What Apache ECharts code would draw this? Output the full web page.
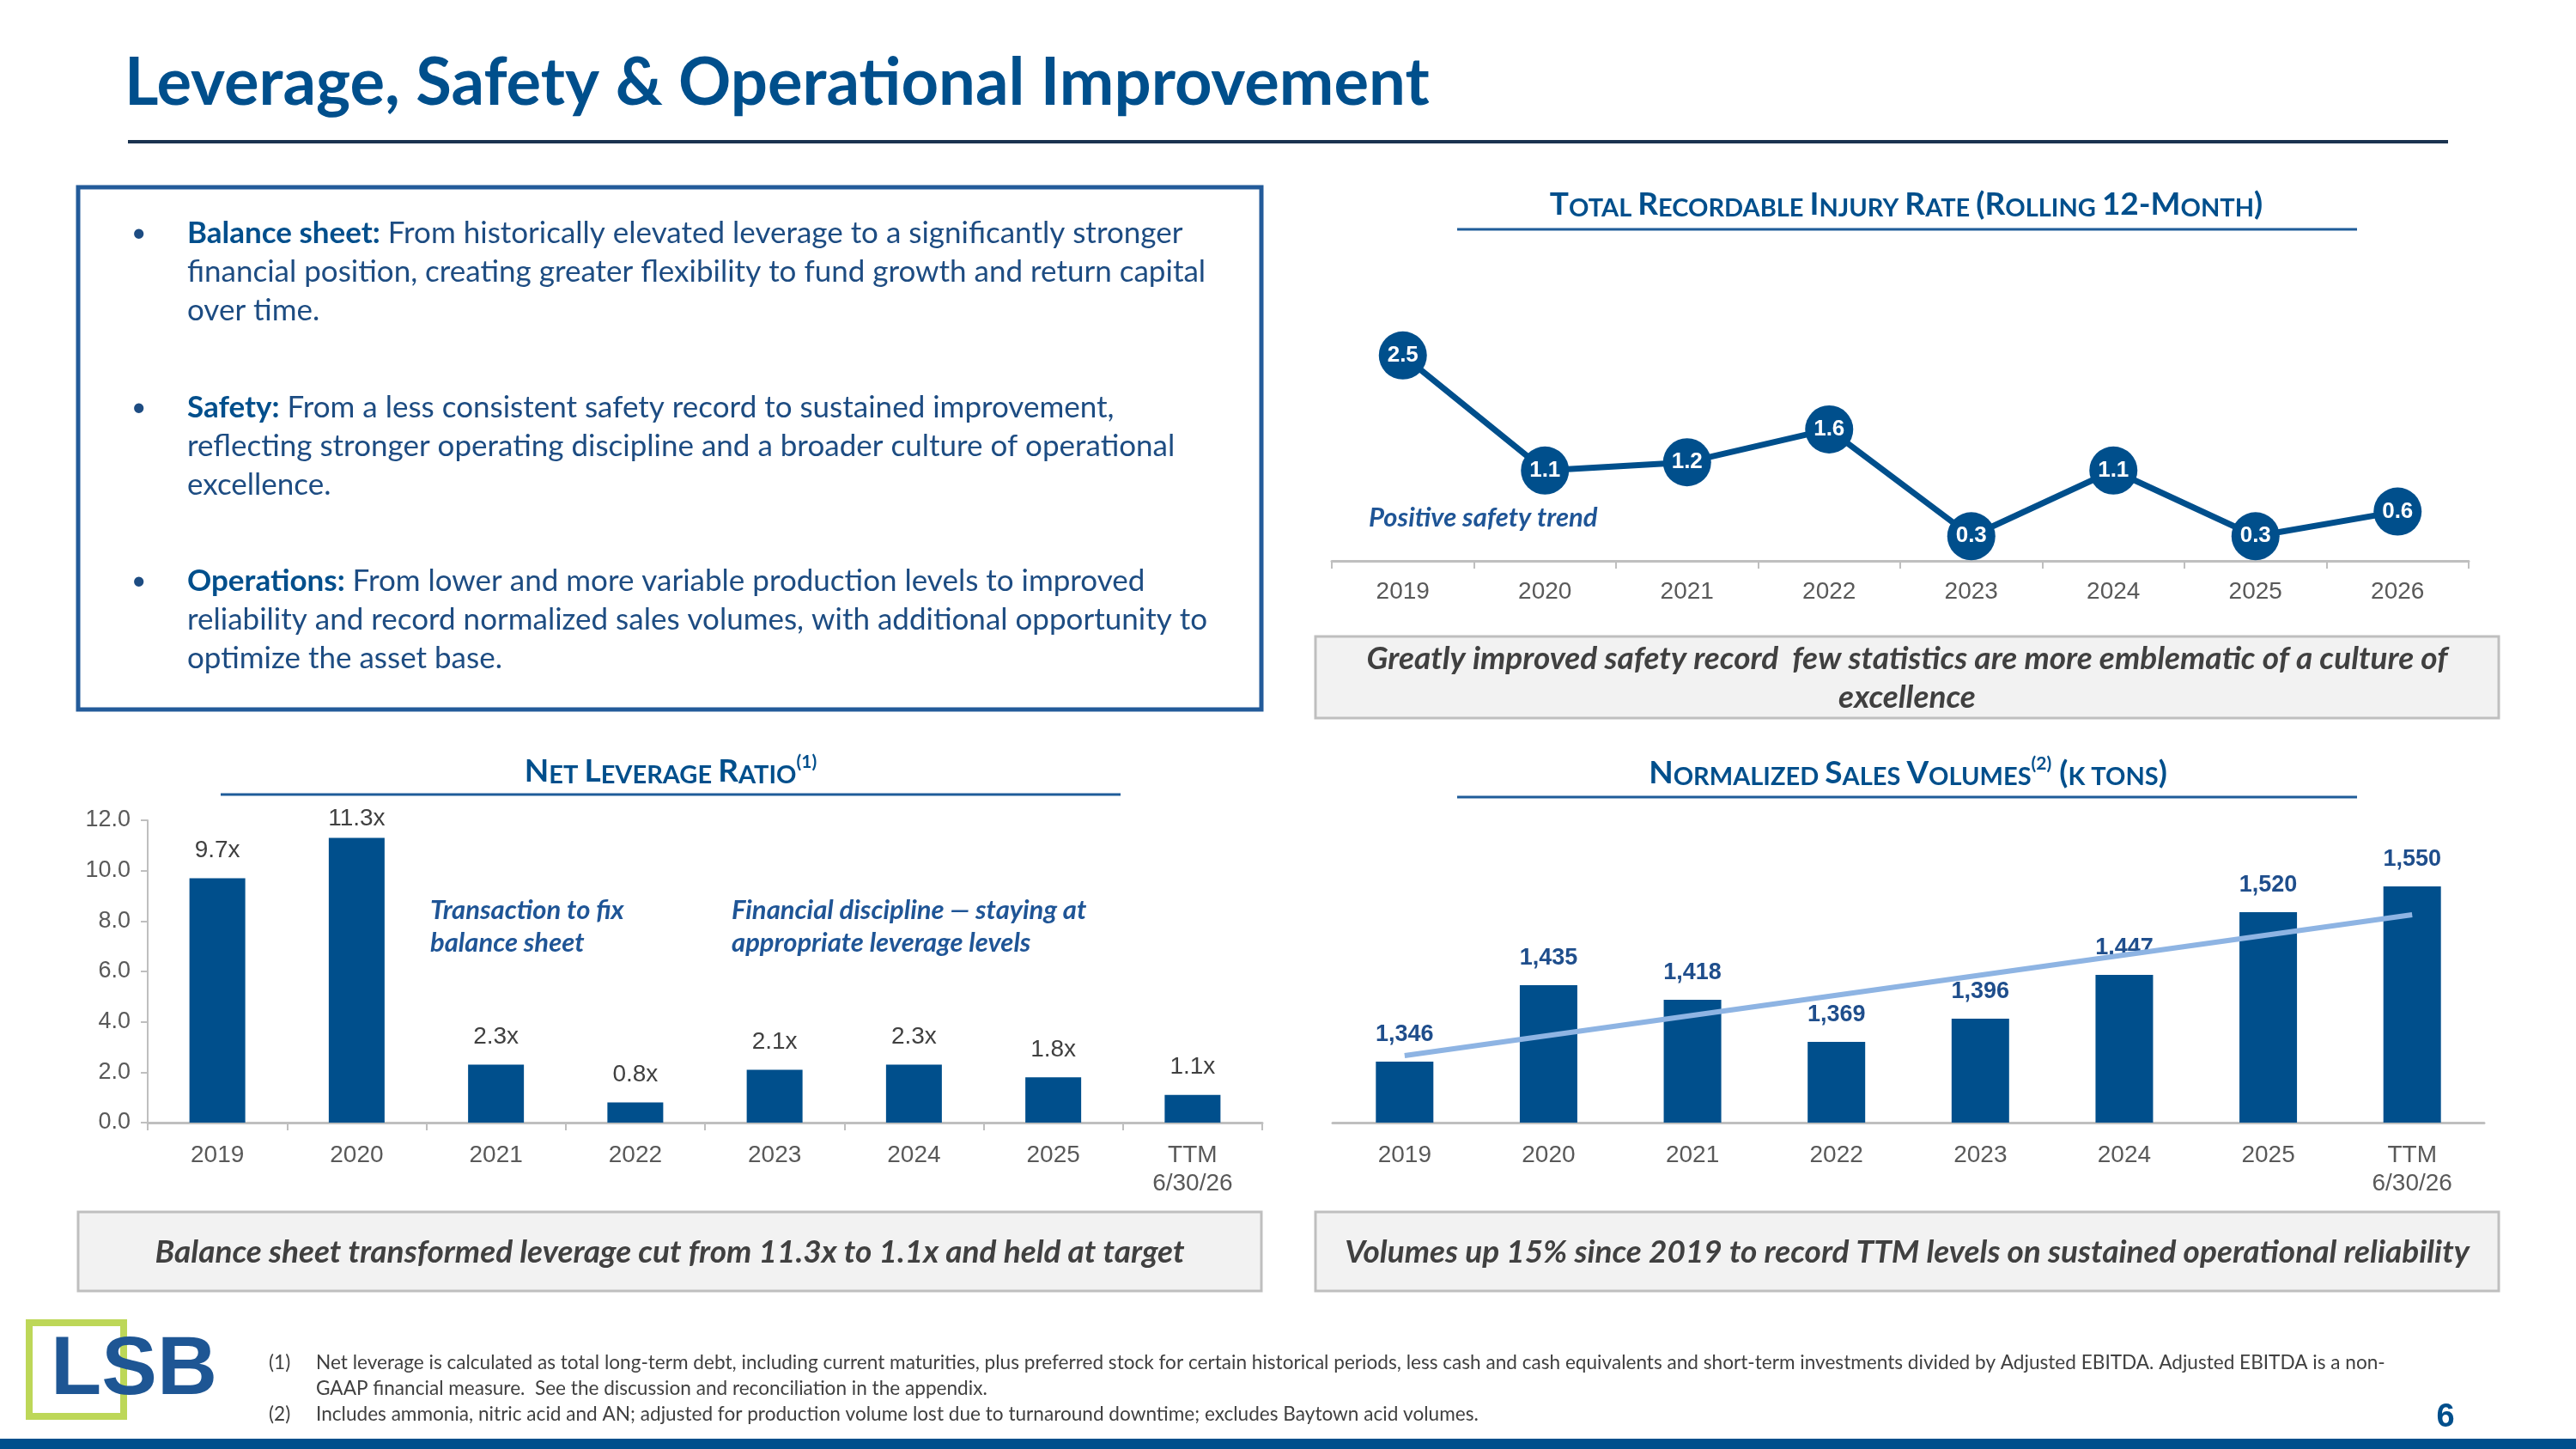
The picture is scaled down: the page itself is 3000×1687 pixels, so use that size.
<!DOCTYPE html>
<html lang="en">
<head>
    <meta charset="UTF-8">
    <title>Leverage, Safety & Operational Improvement</title>
    <script src="https://cdn.jsdelivr.net/npm/echarts@6.0.0/dist/echarts.min.js"></script>
    <style>
        html, body { margin: 0; padding: 0; background: #fff; }
        #page { width: 3000px; height: 1687px; }
    </style>
</head>
<body>
<div id="page"></div>
<script type="text/javascript">
    // 数据
    var years = ['2019', '2020', '2021', '2022', '2023', '2024', '2025', 'TTM\n6/30/26'];
    var leverageValues = [9.7, 11.3, 2.3, 0.8, 2.1, 2.3, 1.8, 1.1];
    var injuryYears = ['2019', '2020', '2021', '2022', '2023', '2024', '2025', '2026'];
    var injuryValues = [2.5, 1.1, 1.2, 1.6, 0.3, 1.1, 0.3, 0.6];
    var volumeValues = [1346, 1435, 1418, 1369, 1396, 1447, 1520, 1550];
    var volumeTrend = [1353, null, null, null, null, null, null, 1517];

    var BLUE = '#004F8C';
    var GRAY_AXIS = '#BFBFBF';
    var GRAY_TEXT = '#595959';
    var ARIAL = '"Liberation Sans", Arial, sans-serif';
    var CAL = 'Lato, "Open Sans", sans-serif';

    var chart = echarts.init(document.getElementById('page'));

    function catAxis(idx, data, ticks) {
        return {
            type: 'category',
            gridIndex: idx,
            data: data,
            axisLine: { show: true, lineStyle: { color: GRAY_AXIS, width: 3 } },
            axisTick: { show: ticks, length: 9, lineStyle: { color: GRAY_AXIS, width: 2 } },
            axisLabel: {
                interval: 0, margin: 22, fontSize: 28, lineHeight: 33,
                color: GRAY_TEXT, fontFamily: ARIAL
            }
        };
    }

    // 小型大写标题
    function capsTitle(str, x, y) {
        return {
            type: 'text',
            style: {
                x: x, y: y, text: str,
                textAlign: 'center', textVerticalAlign: 'middle',
                rich: {
                    b: { fontSize: 37, fontWeight: 'bold', fontFamily: CAL, fill: BLUE, verticalAlign: 'bottom', lineHeight: 40 },
                    s: { fontSize: 29, fontWeight: 'bold', fontFamily: CAL, fill: BLUE, verticalAlign: 'bottom', lineHeight: 40 },
                    sup: { fontSize: 21, fontWeight: 'bold', fontFamily: CAL, fill: BLUE, verticalAlign: 'top', lineHeight: 34 }
                }
            }
        };
    }

    function underline(x1, x2, y) {
        return { type: 'line', shape: { x1: x1, y1: y, x2: x2, y2: y }, style: { stroke: '#1F5C99', lineWidth: 3 } };
    }

    function grayBox(x, y, w, h, text, cy) {
        return [
            { type: 'rect', shape: { x: x, y: y, width: w, height: h }, style: { fill: '#F2F2F2', stroke: GRAY_AXIS, lineWidth: 3 } },
            {
                type: 'text', style: {
                    x: x + w / 2, y: cy, text: text, textAlign: 'center', textVerticalAlign: 'middle',
                    font: 'italic bold 37px ' + CAL, fill: '#404040', lineHeight: 45
                }
            }
        ];
    }

    function note(text, x, y) {
        return {
            type: 'text', style: {
                x: x, y: y, text: text, textAlign: 'left', textVerticalAlign: 'top',
                font: 'italic bold 31px ' + CAL, fill: '#1F5596', lineHeight: 38
            }
        };
    }

    function bullet(text, y) {
        return [
            { type: 'text', style: { x: 153, y: y + 22, text: '•', textVerticalAlign: 'middle', font: '30px ' + CAL, fill: '#1D4C82' } },
            {
                type: 'text', style: {
                    x: 218, y: y, text: text, textVerticalAlign: 'top',
                    font: '35px ' + CAL, fill: '#1D4C82', lineHeight: 45,
                    rich: { b: { fontSize: 35, fontWeight: 'bold', fontFamily: CAL, fill: BLUE, lineHeight: 45 } }
                }
            }
        ];
    }

    var graphics = [
        { type: 'text', style: { x: 145, y: 97, text: 'Leverage, Safety & Operational Improvement', textVerticalAlign: 'middle', font: 'bold 76px ' + CAL, fill: BLUE } },
        { type: 'line', shape: { x1: 149, y1: 165, x2: 2851, y2: 165 }, style: { stroke: '#1B3350', lineWidth: 4 } },
        { type: 'rect', shape: { x: 91, y: 218, width: 1378, height: 608 }, style: { fill: 'none', stroke: '#235B9A', lineWidth: 5 } }
    ];
    graphics = graphics.concat(
        bullet('{b|Balance sheet:} From historically elevated leverage to a significantly stronger\nfinancial position, creating greater flexibility to fund growth and return capital\nover time.', 249),
        bullet('{b|Safety:} From a less consistent safety record to sustained improvement,\nreflecting stronger operating discipline and a broader culture of operational\nexcellence.', 452),
        bullet('{b|Operations:} From lower and more variable production levels to improved\nreliability and record normalized sales volumes, with additional opportunity to\noptimize the asset base.', 654)
    );
    graphics.push(
        capsTitle('{b|T}{s|OTAL }{b|R}{s|ECORDABLE }{b|I}{s|NJURY }{b|R}{s|ATE }{b|(R}{s|OLLING }{b|12-M}{s|ONTH}{b|)}', 2220, 237),
        underline(1697, 2745, 267),
        capsTitle('{b|N}{s|ET }{b|L}{s|EVERAGE }{b|R}{s|ATIO}{sup|(1)}', 781, 897),
        underline(257, 1305, 925),
        capsTitle('{b|N}{s|ORMALIZED }{b|S}{s|ALES }{b|V}{s|OLUMES}{sup|(2)}{b| (}{s|K TONS}{b|)}', 2222, 899),
        underline(1697, 2745, 928)
    );
    graphics = graphics.concat(
        grayBox(1532, 741, 1378, 95, 'Greatly improved safety record  few statistics are more emblematic of a culture of\nexcellence', 790),
        grayBox(91, 1411, 1378, 92, 'Balance sheet transformed leverage cut from 11.3x to 1.1x and held at target', 1458),
        grayBox(1532, 1411, 1378, 92, 'Volumes up 15% since 2019 to record TTM levels on sustained operational reliability', 1458)
    );
    graphics.push(
        note('Positive safety trend', 1594, 584),
        note('Transaction to fix\nbalance sheet', 501, 1041),
        note('Financial discipline \u2014 staying at\nappropriate leverage levels', 852, 1041),
        // 标志
        { type: 'rect', shape: { x: 34, y: 1540, width: 110, height: 109 }, style: { fill: 'none', stroke: '#BDD758', lineWidth: 8 } },
        { type: 'text', style: { x: 59, y: 1596, text: 'LSB', textVerticalAlign: 'middle', font: 'bold 97px ' + ARIAL, fill: '#1E5694' } },
        // 脚注
        { type: 'text', style: { x: 313, y: 1587, text: '(1)', textVerticalAlign: 'middle', font: '22.6px ' + CAL, fill: '#404040' } },
        { type: 'text', style: { x: 368, y: 1572, text: 'Net leverage is calculated as total long-term debt, including current maturities, plus preferred stock for certain historical periods, less cash and cash equivalents and short-term investments divided by Adjusted EBITDA. Adjusted EBITDA is a non-\nGAAP financial measure.  See the discussion and reconciliation in the appendix.', textVerticalAlign: 'top', font: '22.6px ' + CAL, fill: '#404040', lineHeight: 30 } },
        { type: 'text', style: { x: 313, y: 1647, text: '(2)', textVerticalAlign: 'middle', font: '22.6px ' + CAL, fill: '#404040' } },
        { type: 'text', style: { x: 368, y: 1647, text: 'Includes ammonia, nitric acid and AN; adjusted for production volume lost due to turnaround downtime; excludes Baytown acid volumes.', textVerticalAlign: 'middle', font: '22.6px ' + CAL, fill: '#404040' } },
        { type: 'text', style: { x: 2848, y: 1651, text: '6', textAlign: 'center', textVerticalAlign: 'middle', font: 'bold 38px ' + ARIAL, fill: BLUE } },
        { type: 'rect', shape: { x: 0, y: 1675, width: 3000, height: 12 }, style: { fill: BLUE } }
    );

    // 2020 柱子贴近图表上沿，标签离柱子更近
    var leverageData = leverageValues.map(function (v, i) {
        return i === 1 ? { value: v, label: { distance: 8 } } : v;
    });

    var option = {
        animation: false,
        backgroundColor: '#fff',
        grid: [
            { left: 172, top: 955, width: 1298, height: 352, outerBoundsMode: 'none' },
            { left: 1551, top: 366, width: 1324, height: 287, outerBoundsMode: 'none' },
            { left: 1552, top: 982, width: 1341, height: 325, outerBoundsMode: 'none' }
        ],
        xAxis: [
            catAxis(0, years, true),
            (function () { var a = catAxis(1, injuryYears, true); a.axisLabel.margin = 20; return a; })(),
            catAxis(2, years, false)
        ],
        yAxis: [
            {
                type: 'value', gridIndex: 0, min: 0, max: 12, interval: 2,
                axisLine: { show: true, lineStyle: { color: GRAY_AXIS, width: 2 } },
                axisTick: { show: true, length: 8, lineStyle: { color: GRAY_AXIS, width: 2 } },
                splitLine: { show: false },
                axisLabel: {
                    margin: 20, fontSize: 27, color: GRAY_TEXT, fontFamily: ARIAL,
                    formatter: function (v) { return v.toFixed(1); }
                }
            },
            { type: 'value', gridIndex: 1, min: 0, max: 3, show: false, splitLine: { show: false } },
            { type: 'value', gridIndex: 2, min: 1275, max: 1600, show: false, splitLine: { show: false } }
        ],
        series: [
            {
                name: 'Net Leverage', type: 'bar', xAxisIndex: 0, yAxisIndex: 0,
                data: leverageData, barWidth: 65,
                itemStyle: { color: BLUE },
                label: {
                    show: true, position: 'top', distance: 18,
                    fontSize: 28, color: '#404040', fontFamily: ARIAL,
                    formatter: function (p) { return p.value.toFixed(1) + 'x'; }
                }
            },
            {
                name: 'TRIR', type: 'line', xAxisIndex: 1, yAxisIndex: 1,
                data: injuryValues,
                symbol: 'circle', symbolSize: 56,
                lineStyle: { color: BLUE, width: 7 },
                itemStyle: { color: BLUE },
                label: {
                    show: true, position: 'inside',
                    fontSize: 26, fontWeight: 'bold', color: '#fff', fontFamily: ARIAL,
                    formatter: function (p) { return p.value.toFixed(1); }
                }
            },
            {
                name: 'Volumes', type: 'bar', xAxisIndex: 2, yAxisIndex: 2,
                data: volumeValues, barWidth: 67,
                itemStyle: { color: BLUE },
                label: {
                    show: true, position: 'top', distance: 18,
                    fontSize: 27, fontWeight: 'bold', color: '#1F4E8C', fontFamily: ARIAL,
                    formatter: function (p) { return p.value.toLocaleString('en-US'); }
                }
            },
            {
                name: 'Trend', type: 'line', xAxisIndex: 2, yAxisIndex: 2,
                data: volumeTrend, connectNulls: true,
                symbol: 'none', silent: true, z: 5,
                lineStyle: { color: '#8EB4E3', width: 6 }
            }
        ],
        graphic: graphics
    };

    chart.setOption(option);
</script>
</body>
</html>
